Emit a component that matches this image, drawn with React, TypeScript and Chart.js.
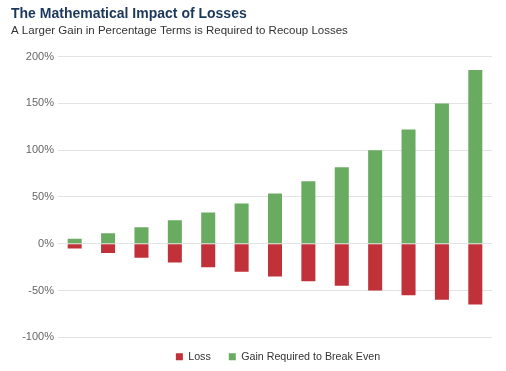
import React, { useEffect, useRef } from "react";
import { Chart, registerables } from "chart.js";

Chart.register(...registerables);

const title = "The Mathematical Impact of Losses";
const subtitle = "A Larger Gain in Percentage Terms is Required to Recoup Losses";
const categories = ["5%", "10%", "15%", "20%", "25%", "30%", "35%", "40%", "45%", "50%", "55%", "60%", "65%"];
const lossValues = [-5, -10, -15, -20, -25, -30, -35, -40, -45, -50, -55, -60, -65];
const gainValues = [5.3, 11.1, 17.6, 25, 33.3, 42.9, 53.8, 66.7, 81.8, 100, 122.2, 150, 185.7];
const seriesNames = ["Loss", "Gain Required to Break Even"];
const yMin = -100;
const yMax = 200;
const yStep = 50;

const FONT = "'Liberation Sans', Arial, Helvetica, sans-serif";

const legendPlacer = {
  id: "legendPlacer",
  beforeLayout(chart: any) {
    const lg = chart.legend;
    if (lg && !lg.__patched) {
      const orig = lg.fit.bind(lg);
      lg.fit = function () {
        orig();
        this.height = Math.max(0, this.height - 5);
      };
      lg.__patched = true;
    }
  },
  afterLayout(chart: any) {
    const lg = chart.legend;
    const ca = chart.chartArea;
    if (!lg || !ca) return;
    const dx = (ca.left + ca.right) / 2 - (lg.left + lg.right) / 2 + 3;
    lg.left += dx;
    lg.right += dx;
    lg.top -= 4;
    lg.bottom -= 4;
  },
};

export default function App() {
  const ref = useRef<HTMLCanvasElement | null>(null);
  useEffect(() => {
    if (!ref.current) return;
    const chart = new Chart(ref.current, {
      type: "bar",
      data: {
        labels: categories,
        datasets: [
          { label: seriesNames[0], data: lossValues, backgroundColor: "#c1313a", borderWidth: 0 },
          { label: seriesNames[1], data: gainValues, backgroundColor: "#6aab62", borderWidth: 0 },
        ],
      },
      plugins: [legendPlacer],
      options: {
        animation: false,
        responsive: true,
        maintainAspectRatio: false,
        layout: { padding: { left: 11, right: 14, top: 0, bottom: 0 } },
        datasets: { bar: { barPercentage: 0.42, categoryPercentage: 1 } },
        scales: {
          x: { stacked: true, display: false },
          y: {
            stacked: true,
            min: yMin,
            max: yMax,
            border: { display: false },
            grid: { color: "#e3e3e3", lineWidth: 1, drawTicks: false },
            ticks: {
              stepSize: yStep,
              padding: 4,
              color: "#666",
              font: { family: FONT, size: 11 },
              callback: (v: any) => `${v}%`,
            },
            afterFit: (s: any) => {
              s.width = 47;
            },
          },
        },
        plugins: {
          title: {
            display: true,
            text: title,
            align: "start",
            color: "#1b375a",
            font: { family: FONT, size: 14, weight: "bold" },
            padding: { top: 6, bottom: 1 },
          },
          subtitle: {
            display: true,
            text: subtitle,
            align: "start",
            color: "#333",
            font: { family: FONT, size: 11.5 },
            padding: { top: 0, bottom: 19 },
          },
          legend: {
            position: "bottom",
            labels: {
              boxWidth: 7,
              boxHeight: 7,
              padding: 18,
              color: "#333",
              font: { family: FONT, size: 10.7 },
            },
          },
          tooltip: { enabled: false },
        },
      },
    });
    return () => chart.destroy();
  }, []);
  return (
    <div style={{ position: "fixed", left: 0, top: 0, width: 506, height: 371 }}>
      <canvas ref={ref} />
    </div>
  );
}
